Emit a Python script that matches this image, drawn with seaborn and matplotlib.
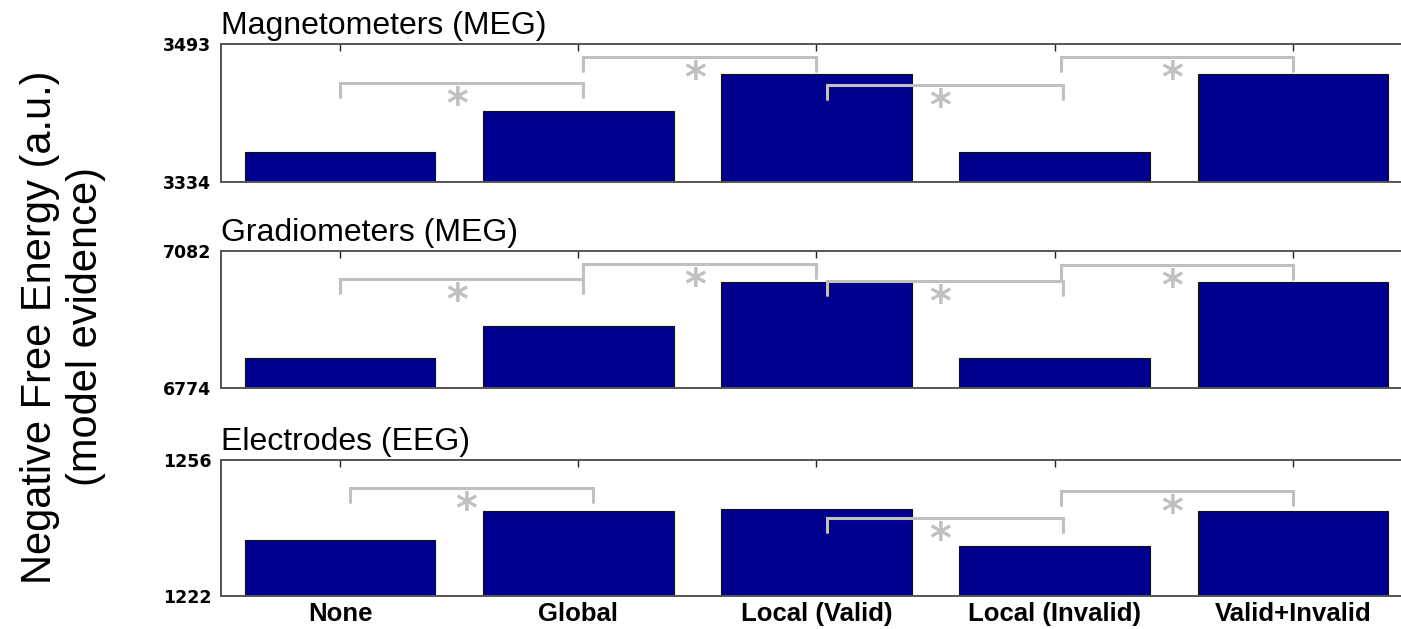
import numpy as np
import pandas as pd
import seaborn as sns
import matplotlib.pyplot as plt
from matplotlib.transforms import blended_transform_factory

# model names on the x axis
models = ['None', 'Global', 'Local (Valid)', 'Local (Invalid)', 'Valid+Invalid']

# panel titles and y ranges
titles = ['Magnetometers (MEG)', 'Gradiometers (MEG)', 'Electrodes (EEG)']
y_lo = [3334, 6774, 1222]
y_hi = [3493, 7082, 1256]

# negative free energy per model
mag_vals = [3368.6, 3415.8, 3458.4, 3368.6, 3458.4]
grad_vals = [6841, 6913, 7012, 6841, 7012]
eeg_vals = [1236.0, 1243.3, 1243.8, 1234.5, 1243.3]

# significant pairwise comparisons (indices into models)
mag_pairs = [(0, 1), (1, 2), (2, 3), (3, 4)]
grad_pairs = [(0, 1), (1, 2), (2, 3), (3, 4)]
eeg_pairs = [(0, 1), (2, 3), (3, 4)]

# bracket heights (axes fraction) and small x nudges, for drawing only
mag_levels = [0.717, 0.906, 0.703, 0.906]
grad_levels = [0.796, 0.905, 0.781, 0.898]
eeg_levels = [0.794, 0.574, 0.772]
mag_nudge = [(0.0, 0.02), (0.02, 0.0), (0.045, 0.035), (0.025, 0.0)]
grad_nudge = [(0.0, 0.02), (0.02, 0.0), (0.045, 0.035), (0.025, 0.0)]
eeg_nudge = [(0.04, 0.06), (0.045, 0.035), (0.025, 0.0)]

sns.set_style('ticks')
plt.rcParams['font.family'] = ['Liberation Sans', 'DejaVu Sans']
plt.rcParams['text.color'] = 'black'
plt.rcParams['xtick.color'] = 'black'
plt.rcParams['ytick.color'] = 'black'

navy = '#00008f'
grey = '#c0c0c0'
leg = 0.10  # bracket leg length in axes fraction

fig = plt.figure(figsize=(14.01, 6.29), dpi=100)

boxes = [[0.1577, 0.7107, 0.8501, 0.2194],
         [0.1577, 0.3831, 0.8501, 0.2178],
         [0.1577, 0.0525, 0.8501, 0.2162]]
all_vals = [mag_vals, grad_vals, eeg_vals]
all_pairs = [mag_pairs, grad_pairs, eeg_pairs]
all_levels = [mag_levels, grad_levels, eeg_levels]
all_nudge = [mag_nudge, grad_nudge, eeg_nudge]

for i in range(3):
    ax = fig.add_axes(boxes[i])
    df = pd.DataFrame({'model': models, 'F': all_vals[i]})
    sns.barplot(data=df, x='model', y='F', color=navy, saturation=1,
                edgecolor='#111111', linewidth=0.8, width=0.8, ax=ax)
    ax.set_ylim(y_lo[i], y_hi[i])
    ax.set_xlim(-0.5, 4.5)
    ax.set_xlabel('')
    ax.set_ylabel('')
    ax.set_yticks([y_lo[i], y_hi[i]])
    ax.set_yticklabels([str(y_lo[i]), str(y_hi[i])], family='DejaVu Sans',
                       fontweight='bold', fontsize=12.5)
    ax.tick_params(axis='y', length=0, pad=7)
    ax.tick_params(axis='x', direction='in', top=True, bottom=False,
                   length=5, width=1, color='#222222', pad=4)
    if i == 2:
        ax.set_xticklabels(models, fontweight='bold', fontsize=18.5)
    else:
        ax.set_xticklabels([])
    for s in ax.spines.values():
        s.set_color('#555555')
        s.set_linewidth(1.4)
    ax.spines['right'].set_visible(False)
    ax.text(0.0, 1.025, titles[i], transform=ax.transAxes, fontsize=23,
            ha='left', va='bottom')

    trans = blended_transform_factory(ax.transData, ax.transAxes)
    for (a, b), h, (da, db) in zip(all_pairs[i], all_levels[i], all_nudge[i]):
        xa, xb = a + da, b + db
        ax.plot([xa, xa, xb, xb], [h - leg, h, h, h - leg], color=grey,
                lw=2.2, transform=trans, clip_on=False, solid_joinstyle='miter')
        ax.text((xa + xb) / 2 - 0.02, h - 0.015, '*', color=grey, fontsize=30,
                fontweight='bold', family='DejaVu Sans', ha='center', va='top',
                transform=trans)

fig.text(63 / 1401, 1 - 327 / 629,
         'Negative Free Energy (a.u.)\n(model evidence)',
         rotation=90, ha='center', va='center', multialignment='center',
         fontsize=30, linespacing=1.2)

fig.savefig('out.png', dpi=100)
